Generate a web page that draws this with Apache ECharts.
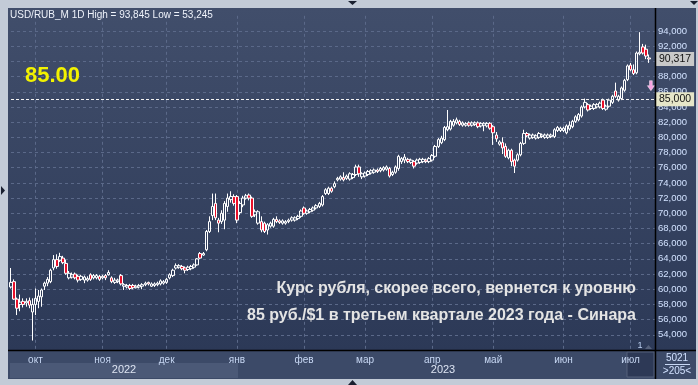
<!DOCTYPE html>
<html><head><meta charset="utf-8">
<script src="https://cdn.jsdelivr.net/npm/echarts@6/dist/echarts.min.js"></script>
<style>html,body{margin:0;padding:0;background:#c3cbd7;}#c{width:698px;height:385px;}</style>
</head><body><div id="c"></div>
<script>
// Daily candles per month: [open, close, low, high]
const sep22 = [[60.3,60.9,60.1,62.8],[61.0,58.7,58.6,61.3],[58.7,57.5,56.6,58.9],[58.0,58.3,57.1,59.3],[58.4,58.0,57.6,58.8],[58.2,58.4,57.7,58.8],[58.5,57.9,57.5,58.9],[57.0,58.0,53.245,58.8]];
const oct22 = [[58.0,58.8,56.6,60.1],[58.4,59.1,57.5,59.9],[59.0,59.9,57.7,60.1],[60.4,60.8,59.9,61.0],[60.8,61.3,60.4,61.6],[61.0,62.5,60.8,62.7],[62.8,63.9,62.5,64.5],[63.9,63.0,62.7,64.6],[63.8,64.3,63.6,64.8],[64.1,63.5,63.3,64.4],[63.4,62.1,61.9,63.9],[61.5,62.1,61.3,62.4],[61.6,61.9,61.4,62.2],[62.0,61.5,61.3,62.2],[61.7,61.2,60.9,61.9],[61.3,61.7,61.1,61.9],[61.2,61.6,60.8,61.8],[61.2,61.4,61.0,61.7],[61.9,61.3,61.1,62.1],[61.5,61.8,61.3,62.0],[61.5,61.8,61.3,62.0],[61.7,61.3,61.1,61.9]];
const nov22 = [[61.5,61.7,61.3,61.9],[61.8,61.5,61.2,62.0],[61.9,62.2,61.8,62.5],[61.5,61.0,60.8,61.7],[60.9,61.2,60.7,61.5],[61.0,61.2,60.8,61.4],[61.8,60.7,60.5,62.0],[60.4,60.6,59.9,60.8],[60.3,60.5,60.1,60.7],[60.5,60.1,59.9,60.7],[60.5,60.2,60.0,60.7],[60.2,60.4,60.1,60.6],[60.3,60.5,60.1,60.7],[60.4,60.6,60.0,60.8],[60.6,60.8,60.4,61.0],[60.9,60.7,60.5,61.0],[60.4,60.7,60.3,60.9],[60.5,60.7,60.3,60.9],[60.6,60.8,60.4,61.0],[60.7,61.1,60.5,61.3],[60.8,61.0,60.6,61.2]];
const dec22 = [[60.9,61.3,60.7,61.5],[61.5,61.9,61.3,62.1],[61.8,62.5,61.6,62.7],[62.8,63.1,62.6,63.4],[62.9,63.1,62.7,63.3],[63.0,62.7,62.5,63.2],[62.8,62.5,62.1,63.0],[62.6,62.9,62.4,63.1],[62.7,63.0,62.5,63.2],[62.9,63.2,62.7,63.4],[63.2,64.0,63.1,64.1],[64.7,64.1,64.0,64.9],[64.5,64.7,64.4,64.9],[65.2,67.6,65.0,67.8],[67.6,68.9,67.4,69.6],[69.7,70.9,69.1,72.6],[71.3,69.4,69.1,72.6],[69.1,68.7,67.5,69.4],[68.9,70.0,68.6,70.4],[69.1,71.3,67.9,71.6],[70.9,72.0,70.2,72.6],[71.8,72.2,71.4,72.9],[72.2,71.3,71.0,72.5]];
const jan23 = [[72.2,69.1,68.7,72.4],[70.1,71.3,69.8,71.6],[71.1,72.0,70.8,72.3],[72.0,72.3,71.8,72.55],[72.4,72.0,71.7,72.6],[72.0,69.6,69.4,72.2],[69.8,70.2,69.5,70.5],[68.7,70.2,68.5,70.4],[68.9,67.8,67.5,69.6],[68.7,67.6,67.4,68.9],[67.8,68.5,67.2,68.7],[68.3,68.7,68.1,68.9],[68.3,69.2,68.1,69.4],[69.2,68.9,68.7,69.6],[69.0,68.8,68.6,69.2],[68.7,69.0,68.5,69.2],[68.7,68.9,68.5,69.1],[68.9,69.1,68.7,69.3],[69.1,69.4,68.9,69.6],[69.1,69.4,68.9,69.6],[69.3,69.6,69.1,69.8],[69.6,70.3,69.4,70.5]];
const feb23 = [[70.7,70.0,69.8,70.9],[70.0,70.3,69.8,70.5],[70.2,70.5,70.0,70.7],[70.4,70.7,70.2,70.9],[70.7,71.0,70.5,71.2],[70.9,71.3,70.7,71.5],[71.1,72.2,70.9,72.4],[72.6,73.1,72.4,73.3],[72.6,73.3,72.4,73.5],[73.3,72.9,72.7,73.5],[73.5,73.9,73.3,74.2],[74.4,74.6,74.2,74.8],[74.5,74.8,74.3,75.0],[74.7,74.4,74.2,75.4],[74.6,74.9,74.4,75.1],[74.5,75.2,74.3,75.4],[74.7,75.1,74.5,75.3],[75.1,76.1,74.9,76.4],[76.1,75.2,74.8,76.4],[74.8,75.2,74.5,75.4]];
const mar23 = [[74.9,75.3,74.7,75.5],[75.1,75.5,74.9,75.7],[75.3,75.6,75.1,75.8],[75.4,75.7,75.2,75.9],[75.7,75.5,75.3,75.9],[75.6,75.9,75.4,76.1],[75.7,76.0,75.5,76.2],[75.8,76.1,75.6,76.3],[75.9,74.9,74.7,76.1],[75.1,75.4,74.9,75.6],[75.4,76.1,75.2,76.3],[75.9,77.5,75.6,77.7],[76.8,77.2,76.5,77.4],[77.0,77.4,76.6,77.8],[77.1,76.8,76.6,77.3],[76.7,77.0,76.5,77.2],[76.8,76.2,75.9,77.0],[76.6,77.0,76.4,77.2],[76.7,77.1,76.5,77.3],[76.8,77.1,76.6,77.3],[77.0,76.8,76.6,77.2],[76.8,77.2,76.6,77.4]];
const apr23 = [[77.0,77.6,76.8,77.8],[77.5,78.8,77.3,79.0],[78.8,79.7,78.6,79.9],[79.3,79.9,79.1,80.2],[79.7,81.3,79.5,81.5],[81.0,81.4,80.8,83.6],[81.1,82.1,80.9,82.3],[81.6,82.1,81.4,82.4],[81.9,82.3,81.7,82.6],[82.1,81.7,81.5,82.3],[81.6,81.9,81.4,82.1],[81.6,81.8,81.4,82.0],[81.9,81.6,81.4,82.1],[81.6,81.9,81.4,82.1],[81.7,81.9,81.5,82.1],[81.9,81.4,81.2,82.1],[81.5,81.8,81.3,82.0],[81.6,81.85,80.8,82.0],[81.5,81.8,81.3,82.0],[81.85,81.2,81.0,82.0]];
const may23 = [[81.4,80.6,79.0,81.6],[80.3,79.8,79.4,80.7],[79.1,79.4,78.9,79.6],[79.3,78.6,77.8,80.0],[78.8,77.5,77.3,79.2],[77.3,78.3,77.1,78.5],[78.3,76.8,76.2,78.5],[77.0,76.2,75.3,77.2],[77.0,77.7,76.8,77.9],[77.7,79.2,77.5,79.4],[79.2,80.5,79.0,81.0],[80.5,80.2,80.0,80.7],[79.9,80.3,79.7,80.5],[80.0,80.3,79.8,80.5],[79.9,80.2,79.7,80.4],[80.0,80.5,79.8,80.7],[80.1,80.3,79.9,80.5],[80.0,80.3,79.8,80.5],[80.0,80.3,79.8,80.5],[80.1,80.3,79.9,80.5],[80.1,81.0,79.9,81.2],[80.9,81.3,80.7,81.5],[80.9,81.2,80.7,81.4]];
const jun23 = [[80.9,81.2,80.7,81.4],[80.6,81.5,80.4,81.7],[81.1,81.6,80.9,82.1],[81.4,82.1,81.2,82.3],[82.1,82.7,81.9,82.9],[82.3,83.0,82.1,83.2],[82.8,84.0,82.6,84.2],[84.0,84.6,83.8,85.1],[84.3,83.6,83.4,84.5],[83.8,84.1,83.6,84.3],[83.8,84.3,83.6,84.5],[84.0,84.3,83.8,84.5],[84.0,84.5,83.8,84.7],[84.9,83.8,83.6,85.1],[83.7,84.1,83.5,84.3],[84.1,84.9,83.9,85.1],[84.6,85.4,84.4,85.6],[86.1,85.4,85.2,87.2],[84.9,85.4,84.7,85.6],[85.1,86.5,84.9,86.7],[86.2,87.5,86.0,87.7],[87.6,89.4,87.4,89.6]];
const jul23 = [[89.5,88.9,88.7,89.8],[88.9,88.4,88.2,89.6],[88.5,91.1,88.3,91.3],[91.0,91.2,90.8,93.845],[91.9,91.1,90.9,92.3],[91.6,90.7,90.3,92.2],[90.45,90.317,89.8,90.9]];

const monthLabels = ['', 'окт', 'ноя', 'дек', 'янв', 'фев', 'мар', 'апр', 'май', 'июн', 'июл'];
const yearLabels = ['2022', '2023'];
const targetLevel = 85;
const signalLevel = 86.8;
const titleText = 'USD/RUB_M 1D High = 93,845 Low = 53,245';
const bigLabel = '85.00';
const noteLines = ['Курс рубля, скорее всего, вернется к уровню', '85 руб./$1 в третьем квартале 2023 года - Синара'];
const footTop = '5021', footBottom = '>205<', pageMark = '1';

const months = [sep22, oct22, nov22, dec22, jan23, feb23, mar23, apr23, may23, jun23, jul23];
const candles = [], cats = [], labelAt = {};
months.forEach((m, mi) => {
  if (monthLabels[mi]) labelAt[candles.length] = monthLabels[mi];
  m.forEach(b => { cats.push(String(cats.length)); candles.push(b); });
});
const lastIdx = candles.length - 1;
cats.push(String(cats.length)); cats.push(String(cats.length));
const lastClose = candles[lastIdx][1];
const isMonthStart = i => labelAt[i] !== undefined;
const fmt3 = v => v.toFixed(3).replace('.', ',');
const FONT = '"Liberation Sans", Arial, sans-serif';

const chart = echarts.init(document.getElementById('c'), null, {renderer: 'canvas'});
chart.setOption({
  animation: false,
  grid: {left: 11, right: 43, top: 15.8, bottom: 35},
  xAxis: {
    type: 'category', data: cats, boundaryGap: false,
    axisLine: {show: false}, axisTick: {show: false},
    axisLabel: {interval: (i) => isMonthStart(i), formatter: (v, i) => labelAt[i] || '',
      color: '#c8d8f4', fontSize: 10, margin: 5, fontFamily: FONT},
    splitLine: {show: true, interval: (i) => isMonthStart(i), lineStyle: {color: '#5b6989', type: [3, 3], width: 1}}
  },
  yAxis: {
    type: 'value', position: 'right', min: 52, max: 96, interval: 2, scale: true,
    axisLine: {show: false}, axisTick: {show: false},
    axisLabel: {showMinLabel: false, showMaxLabel: false, formatter: fmt3, color: '#d2e2ff',
      fontSize: 9.5, margin: 3, fontFamily: FONT},
    splitLine: {show: true, showMinLine: false, showMaxLine: false, lineStyle: {color: '#5b6989', type: [3, 3], width: 1}}
  },
  series: [{
    type: 'candlestick', data: candles, barWidth: 3, clip: false,
    itemStyle: {color: 'rgba(0,0,0,0)', color0: '#e8102a', borderColor: '#ffffff', borderColor0: '#ffffff', borderWidth: 1},
    markLine: {
      silent: true, symbol: ['none', 'none'], animation: false,
      data: [
        {yAxis: targetLevel, lineStyle: {color: '#f2f2f2', type: [3, 2], width: 1},
          label: {show: true, position: 'end', distance: 1, formatter: fmt3(targetLevel), color: '#111',
            backgroundColor: '#e6e6c8', padding: [2, 3, 1, 3], fontSize: 10.5, fontFamily: FONT}},
        {yAxis: lastClose, lineStyle: {color: 'rgba(0,0,0,0)', width: 0},
          label: {show: true, position: 'end', distance: 1, formatter: fmt3(lastClose), color: '#111',
            backgroundColor: '#c9c9c9', padding: [2, 3, 1, 3], fontSize: 10.5, fontFamily: FONT}}
      ]
    },
    markPoint: {
      silent: true, animation: false,
      data: [{coord: [cats[lastIdx], signalLevel], symbol: 'path://M3,0 L7,0 L7,6 L10,6 L5,12 L0,6 L3,6 Z', symbolSize: [7, 10],
        symbolOffset: [2, 0], itemStyle: {color: '#f6a2e2', borderColor: '#fff0fa', borderWidth: 0.5}, label: {show: false}}]
    }
  }],
  graphic: [
    {type: 'rect', z: -100, shape: {x: 8, y: 8, width: 688, height: 343},
      style: {fill: {type: 'linear', x: 0, y: 0, x2: 0, y2: 1, colorStops: [{offset: 0, color: '#414e6b'}, {offset: 1, color: '#2c3957'}]}}},
    {type: 'rect', z: -100, shape: {x: 8, y: 351, width: 688, height: 28}, style: {fill: '#3c4a68'}},
    {type: 'rect', z: -99, shape: {x: 10, y: 363, width: 228, height: 15}, style: {fill: '#4b5977'}},
    {type: 'rect', z: -99, shape: {x: 627, y: 352, width: 27, height: 25}, style: {fill: '#2d3956', stroke: '#55617b', lineWidth: 1}},
    {type: 'line', z: 50, shape: {x1: 8, y1: 350.5, x2: 696, y2: 350.5}, style: {stroke: '#000', lineWidth: 1.5}},
    {type: 'line', z: 50, shape: {x1: 655.5, y1: 8, x2: 655.5, y2: 379}, style: {stroke: '#000', lineWidth: 1.5}},
    {type: 'line', z: 50, shape: {x1: 665, y1: 364.5, x2: 690, y2: 364.5}, style: {stroke: '#c8d8f4', lineWidth: 1}},
    {type: 'text', z: 100, x: 10, y: 15, style: {text: titleText, fill: '#eef2fa', font: '10px ' + FONT, verticalAlign: 'middle'}},
    {type: 'text', z: 100, x: 25, y: 76, style: {text: bigLabel, fill: '#f2f200', font: 'bold 22px ' + FONT, verticalAlign: 'middle'}},
    {type: 'text', z: 100, x: 636, y: 289, style: {text: noteLines[0], fill: '#e4e4e4', font: 'bold 16px ' + FONT, align: 'right', verticalAlign: 'middle'}},
    {type: 'text', z: 100, x: 636, y: 316, style: {text: noteLines[1], fill: '#e4e4e4', font: 'bold 16px ' + FONT, align: 'right', verticalAlign: 'middle'}},
    {type: 'text', z: 100, x: 124, y: 370, style: {text: yearLabels[0], fill: '#dde4f2', font: '11px ' + FONT, align: 'center', verticalAlign: 'middle'}},
    {type: 'text', z: 100, x: 443, y: 370, style: {text: yearLabels[1], fill: '#dde4f2', font: '11px ' + FONT, align: 'center', verticalAlign: 'middle'}},
    {type: 'text', z: 100, x: 677, y: 358, style: {text: footTop, fill: '#d2e2ff', font: '10px ' + FONT, align: 'center', verticalAlign: 'middle'}},
    {type: 'text', z: 100, x: 677, y: 371, style: {text: footBottom, fill: '#d2e2ff', font: '10px ' + FONT, align: 'center', verticalAlign: 'middle'}},
    {type: 'text', z: 100, x: 640, y: 346, style: {text: pageMark, fill: '#bcd0f0', font: '9px ' + FONT, align: 'center', verticalAlign: 'middle'}},
    {type: 'polygon', z: 100, shape: {points: [[645, 349], [652, 349], [648.5, 345]]}, style: {fill: '#56627c'}},
    {type: 'polygon', z: 100, shape: {points: [[348, 1], [357, 1], [352.5, 5]]}, style: {fill: '#1a2030'}},
    {type: 'polygon', z: 100, shape: {points: [[348, 385], [357, 385], [352.5, 380]]}, style: {fill: '#1a2030'}},
    {type: 'polygon', z: 100, shape: {points: [[1, 186], [1, 195], [5, 190.5]]}, style: {fill: '#1a2030'}},
    {type: 'polygon', z: 100, shape: {points: [[690, 1], [698, 1], [694, 5]]}, style: {fill: '#1a2030'}}
  ]
});
</script></body></html>
